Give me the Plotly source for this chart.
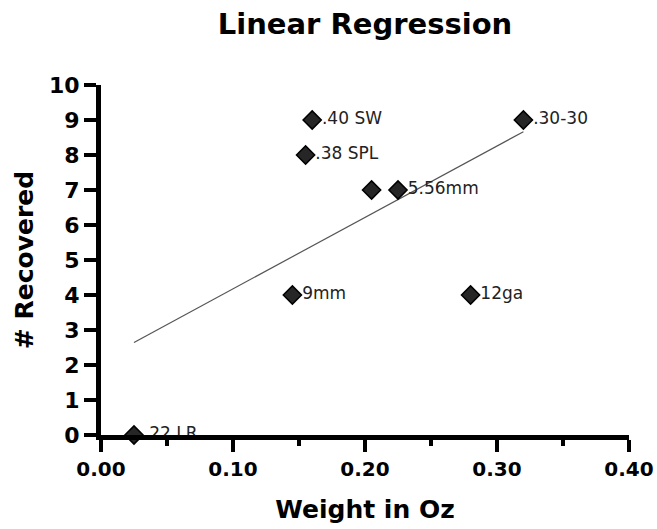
import numpy as np
import plotly.graph_objects as go

labels = [".22 LR", ".40 SW", ".38 SPL", "", "5.56mm", "9mm", "12ga", ".30-30"]
weight_oz = [0.025, 0.16, 0.155, 0.205, 0.225, 0.145, 0.28, 0.32]
recovered = [0, 9, 8, 7, 7, 4, 4, 9]

x_ticks = [0.0, 0.1, 0.2, 0.3, 0.4]
x_tick_text = ["0.00", "0.10", "0.20", "0.30", "0.40"]
y_ticks = list(range(0, 11))

slope, intercept = np.polyfit(weight_oz, recovered, 1)
fit_x = [min(weight_oz), max(weight_oz)]
fit_y = [slope * v + intercept for v in fit_x]

FONT = "DejaVu Sans, sans-serif"
W, H = 657, 529
L, R, T, B = 101, 28, 85, 94

fig = go.Figure()
fig.add_trace(go.Scatter(
    x=fit_x, y=fit_y, mode="lines",
    line=dict(color="#555555", width=1.2),
    hoverinfo="skip", showlegend=False,
))
fig.add_trace(go.Scatter(
    x=weight_oz, y=recovered, mode="markers+text",
    text=labels, textposition="middle right",
    textfont=dict(family=FONT, size=17, color="#222222"),
    marker=dict(symbol="diamond", size=14, color="#262626",
                line=dict(color="#000000", width=1.5)),
    cliponaxis=False, showlegend=False,
))

fig.update_layout(
    width=W, height=H,
    paper_bgcolor="white", plot_bgcolor="white",
    margin=dict(l=L, r=R, t=T, b=B, autoexpand=False),
    font=dict(family=FONT, color="#000000"),
    title=dict(text="<b>Linear Regression</b>",
               x=0.5, xanchor="center", xref="paper",
               y=1 - 24 / H, yanchor="middle",
               font=dict(family=FONT, size=29, color="#000000")),
)

fig.update_xaxes(
    range=[0, 0.4], tickvals=x_ticks, ticktext=x_tick_text,
    showgrid=False, zeroline=False, automargin=False,
    showline=True, linecolor="black", linewidth=5,
    ticks="outside", ticklen=12, tickwidth=4, tickcolor="black",
    tickfont=dict(family=FONT, size=20, color="#000000", weight="bold"),
    minor=dict(dtick=0.05, tick0=0, ticks="outside", ticklen=6, tickwidth=4, tickcolor="black"),
    title=dict(text="<b>Weight in Oz</b>", font=dict(family=FONT, size=25, color="#000000"), standoff=22),
)
fig.update_yaxes(
    range=[0, 10], tickvals=y_ticks,
    showgrid=False, zeroline=False, automargin=False,
    showline=True, linecolor="black", linewidth=5,
    ticks="outside", ticklen=12, tickwidth=4, tickcolor="black",
    tickfont=dict(family=FONT, size=22, color="#000000", weight="bold"),
    title=dict(text="<b># Recovered</b>", font=dict(family=FONT, size=25, color="#000000"), standoff=10),
)

fig.write_html(
    "out.html",
    config={"displayModeBar": False},
    post_script="document.body.style.margin='0';document.body.style.overflow='hidden';",
)
